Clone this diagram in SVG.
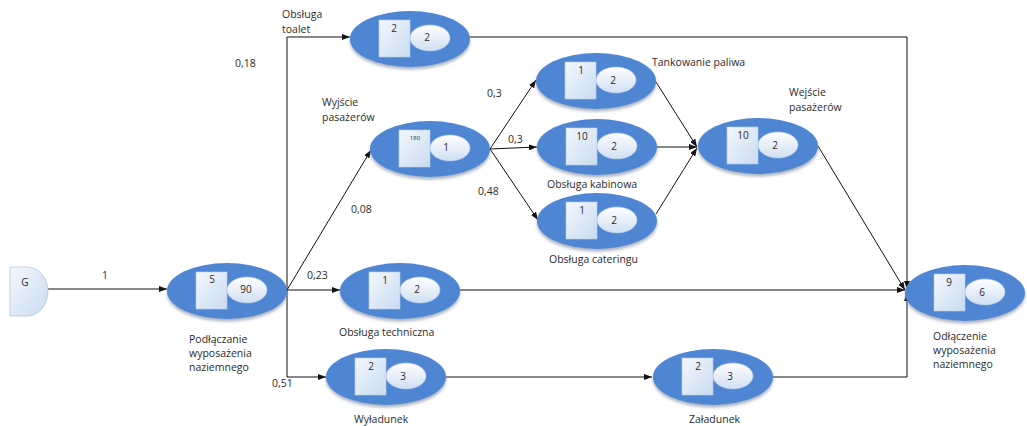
<svg xmlns="http://www.w3.org/2000/svg" width="1027" height="426" viewBox="0 0 1027 426">
<defs>
<linearGradient id="lg" x1="0" y1="0" x2="1" y2="1">
<stop offset="0" stop-color="#f4f8fd"/>
<stop offset="1" stop-color="#c9dbf0"/>
</linearGradient>
<linearGradient id="lgc" x1="0" y1="0" x2="0" y2="1">
<stop offset="0" stop-color="#ffffff"/>
<stop offset="1" stop-color="#cfdff2"/>
</linearGradient>
<filter id="sh" x="-20%" y="-20%" width="140%" height="150%">
<feDropShadow dx="0" dy="2.5" stdDeviation="1.5" flood-color="#6d7f96" flood-opacity="0.6"/>
</filter>
<marker id="ar" markerWidth="8" markerHeight="6" refX="8" refY="3" orient="auto" markerUnits="userSpaceOnUse">
<path d="M0,0 L8,3 L0,6 z" fill="#111"/>
</marker>
<g id="nodeShape">
<ellipse cx="0" cy="0" rx="60" ry="28" fill="#4f86d4" filter="url(#sh)"/>
<rect x="-31" y="-19" width="31" height="37" fill="url(#lg)" stroke="#b9cde6" stroke-width="0.6"/>
<ellipse cx="20" cy="-1" rx="20" ry="13" fill="url(#lgc)" stroke="#b9cde6" stroke-width="0.6"/>
</g>
</defs>
<style>
.lbl{font-family:"Open Sans","Liberation Sans",sans-serif;font-size:10.5px;fill:#2b2b2b}
.num{font-family:"Open Sans","Liberation Sans",sans-serif;font-size:10px;fill:#2b2b2b;text-anchor:middle}
.sm{font-size:6px}
.ln{fill:none;stroke:#111;stroke-width:1}
</style>
<rect width="1027" height="426" fill="#ffffff"/>

<g id="connectors">
<path class="ln" d="M48,289 H167" marker-end="url(#ar)"/>
<path class="ln" d="M287,290 V377"/>
<path class="ln" d="M287,290 V37 H350" marker-end="url(#ar)"/>
<path class="ln" d="M287,377 H326" marker-end="url(#ar)"/>
<path class="ln" d="M287,290 H340" marker-end="url(#ar)"/>
<path class="ln" d="M287,290 L371,150" marker-end="url(#ar)"/>
<path class="ln" d="M490,149 L536,80" marker-end="url(#ar)"/>
<path class="ln" d="M490,149 L537,147" marker-end="url(#ar)"/>
<path class="ln" d="M490,149 L538,220" marker-end="url(#ar)"/>
<path class="ln" d="M656,82 L697,147" marker-end="url(#ar)"/>
<path class="ln" d="M657,147 L697,147" marker-end="url(#ar)"/>
<path class="ln" d="M656,214 L697,148" marker-end="url(#ar)"/>
<path class="ln" d="M818,146 L905,290" marker-end="url(#ar)"/>
<path class="ln" d="M470,37 H907 V289" marker-end="url(#ar)"/>
<path class="ln" d="M460,290 H905" marker-end="url(#ar)"/>
<path class="ln" d="M446,377 H652" marker-end="url(#ar)"/>
<path class="ln" d="M773,377 H907 V293" marker-end="url(#ar)"/>
<text class="lbl" x="102" y="279">1</text>
<text class="lbl" x="235" y="67">0,18</text>
<text class="lbl" x="351" y="213">0,08</text>
<text class="lbl" x="307" y="279">0,23</text>
<text class="lbl" x="272" y="387">0,51</text>
<text class="lbl" x="487" y="97">0,3</text>
<text class="lbl" x="508" y="143">0,3</text>
<text class="lbl" x="478" y="195">0,48</text>
</g>

<g id="source-G">
<path d="M10,267 H27 A21,24.5 0 0 1 27,316 H10 Z" fill="url(#lg)" stroke="#a9c0dd" stroke-width="0.7"/>
<text class="num" x="25" y="286">G</text>
</g>

<g id="n-podlaczanie" transform="translate(227,291)">
<use href="#nodeShape"/>
<text class="num" x="-15" y="-8">5</text>
<text class="num" x="19" y="2">90</text>
<text class="lbl" x="-38" y="52">Podłączanie</text>
<text class="lbl" x="-38" y="66">wyposażenia</text>
<text class="lbl" x="-38" y="80">naziemnego</text>
</g>

<g id="n-toalet" transform="translate(410,39)">
<use href="#nodeShape"/>
<text class="num" x="-16" y="-7">2</text>
<text class="num" x="17" y="2">2</text>
<text class="lbl" x="-128" y="-21">Obsługa</text>
<text class="lbl" x="-128" y="-6">toalet</text>
</g>

<g id="n-wyjscie" transform="translate(430,149)">
<use href="#nodeShape"/>
<text class="num sm" x="-15" y="-9">180</text>
<text class="num" x="16" y="2">1</text>
<text class="lbl" x="-108" y="-43">Wyjście</text>
<text class="lbl" x="-108" y="-28">pasażerów</text>
</g>

<g id="n-tankowanie" transform="translate(596,81)">
<use href="#nodeShape"/>
<text class="num" x="-15" y="-7">1</text>
<text class="num" x="17" y="3">2</text>
<text class="lbl" x="56" y="-15">Tankowanie paliwa</text>
</g>

<g id="n-kabinowa" transform="translate(597,147)">
<use href="#nodeShape"/>
<text class="num" x="-15" y="-7">10</text>
<text class="num" x="17" y="3">2</text>
<text class="lbl" x="-50" y="41">Obsługa kabinowa</text>
</g>

<g id="n-catering" transform="translate(597,221)">
<use href="#nodeShape"/>
<text class="num" x="-15" y="-7">1</text>
<text class="num" x="17" y="3">2</text>
<text class="lbl" x="-48" y="42">Obsługa cateringu</text>
</g>

<g id="n-wejscie" transform="translate(758,146)">
<use href="#nodeShape"/>
<text class="num" x="-15" y="-7">10</text>
<text class="num" x="17" y="3">2</text>
<text class="lbl" x="31" y="-50">Wejście</text>
<text class="lbl" x="31" y="-35">pasażerów</text>
</g>

<g id="n-techniczna" transform="translate(400,291)">
<use href="#nodeShape"/>
<text class="num" x="-15" y="-7">1</text>
<text class="num" x="17" y="2">2</text>
<text class="lbl" x="-61" y="45">Obsługa techniczna</text>
</g>

<g id="n-wyladunek" transform="translate(386,377)">
<use href="#nodeShape"/>
<text class="num" x="-15" y="-7">2</text>
<text class="num" x="17" y="3">3</text>
<text class="lbl" x="-32" y="46">Wyładunek</text>
</g>

<g id="n-zaladunek" transform="translate(713,377)">
<use href="#nodeShape"/>
<text class="num" x="-15" y="-7">2</text>
<text class="num" x="17" y="3">3</text>
<text class="lbl" x="-24" y="46">Załadunek</text>
</g>

<g id="n-odlaczenie" transform="translate(965,293)">
<use href="#nodeShape"/>
<text class="num" x="-16" y="-7">9</text>
<text class="num" x="17" y="3">6</text>
<text class="lbl" x="-32" y="47">Odłączenie</text>
<text class="lbl" x="-32" y="61">wyposażenia</text>
<text class="lbl" x="-32" y="75">naziemnego</text>
</g>
</svg>
